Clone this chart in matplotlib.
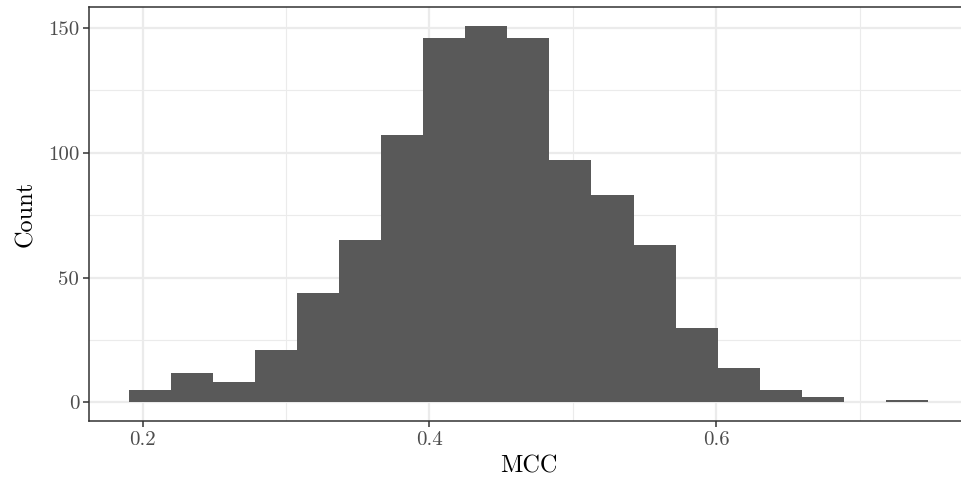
import numpy as np
from matplotlib import pyplot as plt

# histogram of MCC values
bin_start = 0.1907
bin_width = 0.0293
counts = [5, 12, 8, 21, 44, 65, 107, 146, 151, 146, 97, 83, 63, 30, 14, 5, 2, 0, 1]
x_ticks = [0.2, 0.4, 0.6]
x_minor = [0.3, 0.5, 0.7]
y_ticks = [0, 50, 100, 150]
y_minor = [25, 75, 125]

plt.rcParams["font.family"] = "cmr10"
plt.rcParams["axes.unicode_minus"] = False

lefts = bin_start + bin_width * np.arange(len(counts))

fig = plt.figure(figsize=(9.61, 4.87), dpi=100)
# panel runs a little past the right edge of the canvas, as in the reference
ax = fig.add_axes([0.0929, 0.1349, 0.914, 0.8513])

ax.bar(lefts, counts, width=bin_width, align="edge", color="#595959", linewidth=0)

# ggplot-like expansion (5%)
lo, hi = lefts[0], lefts[-1] + bin_width
pad = 0.05 * (hi - lo)
ax.set_xlim(lo - pad, hi + pad)
ax.set_ylim(-0.05 * max(counts), max(counts) * 1.05)

ax.set_xticks(x_ticks)
ax.set_xticks(x_minor, minor=True)
ax.set_yticks(y_ticks)
ax.set_yticks(y_minor, minor=True)
ax.set_xticklabels([f"{v:.1f}" for v in x_ticks])

ax.set_axisbelow(True)
ax.grid(True, which="major", color="#EBEBEB", linewidth=1.6)
ax.grid(True, which="minor", color="#EBEBEB", linewidth=0.8)

for s in ax.spines.values():
    s.set_color("#333333")
    s.set_linewidth(1.1)
ax.spines["right"].set_visible(False)

ax.tick_params(which="major", length=4.3, width=1.1, color="#333333",
               labelsize=15, labelcolor="#4D4D4D", pad=3)
ax.tick_params(which="minor", length=0)

ax.set_xlabel("MCC", fontsize=17.5, labelpad=4)
ax.set_ylabel("Count", fontsize=17.5, labelpad=8)

fig.savefig("out.png", dpi=100)
